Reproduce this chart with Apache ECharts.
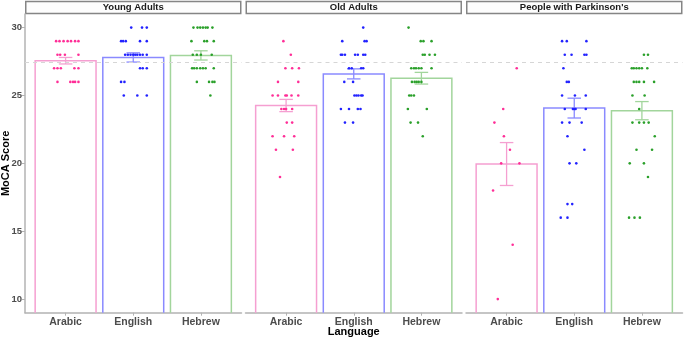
<!DOCTYPE html>
<html>
<head>
<meta charset="utf-8">
<script src="https://cdn.jsdelivr.net/npm/echarts@6/dist/echarts.min.js"></script>
<style>
  html, body { margin: 0; padding: 0; background: #fff; }
  #chart { width: 685px; height: 338px; }
</style>
</head>
<body>
<div id="chart"></div>
<script>
const panels = ["Young Adults", "Old Adults", "People with Parkinson's"];
const languages = ["Arabic", "English", "Hebrew"];

// bar heights (group means) and standard errors
const meanScores = [
  [27.56, 27.8, 27.95],
  [24.26, 26.59, 26.27],
  [19.95, 24.07, 23.88],
];
const seScores = [
  [0.24, 0.34, 0.34],
  [0.45, 0.37, 0.43],
  [1.58, 0.73, 0.67],
];
const refScore = 27.45;

// individual scores: [score, [horizontal jitter of each point]]
const youngArabic = [
  [29, [-0.14, -0.09, -0.03, 0.03, 0.08, 0.14, 0.19]],
  [28, [-0.12, -0.08, -0.01, 0.19]],
  [27, [-0.17, -0.12, -0.07, 0.13, 0.19]],
  [26, [-0.12, 0.07, 0.11, 0.14, 0.19]],
];
const youngEnglish = [
  [30, [-0.03, 0.13, 0.2]],
  [29, [-0.18, -0.15, -0.11, 0.1, 0.2]],
  [28, [-0.12, -0.08, -0.04, 0, 0.03, 0.06, 0.1, 0.14, 0.2]],
  [27, [0.1, 0.14, 0.2]],
  [26, [-0.18, -0.13]],
  [25, [-0.14, 0.06, 0.2]],
];
const youngHebrew = [
  [30, [-0.11, -0.05, -0.01, 0.03, 0.07, 0.1, 0.17]],
  [29, [-0.14, 0.05, 0.09, 0.19]],
  [28, [-0.12, -0.06, 0, 0.16]],
  [27, [-0.13, -0.1, -0.06, -0.01, 0.03, 0.07, 0.19]],
  [26, [-0.06, 0.12, 0.17, 0.2]],
  [25, [0.14]],
];
const oldArabic = [
  [29, [-0.04]],
  [28, [0.07]],
  [27, [-0.01, 0.09, 0.19]],
  [26, [-0.12, 0.18]],
  [25, [-0.2, -0.12, -0.01, 0.01, 0.08, 0.18]],
  [24, [-0.07, -0.03, 0, 0.09]],
  [23, [0.01, 0.09]],
  [22, [-0.2, -0.03, 0.12]],
  [21, [-0.15, 0.1]],
  [19, [-0.09]],
];
const oldEnglish = [
  [30, [0.14]],
  [29, [-0.17, 0.16, 0.19]],
  [28, [-0.19, -0.17, -0.13, 0.02, 0.06, 0.14, 0.17]],
  [27, [-0.07, -0.03, 0.11, 0.14]],
  [26, [-0.14, -0.01]],
  [25, [0.01, 0.04, 0.07, 0.11, 0.13]],
  [24, [-0.19, -0.07, 0.06, 0.1]],
  [23, [-0.13, -0.01]],
];
const oldHebrew = [
  [30, [-0.19]],
  [29, [-0.01, 0.03, 0.15]],
  [28, [0.02, 0.05, 0.12, 0.2]],
  [27, [-0.15, -0.11, -0.08, -0.04, 0, 0.15]],
  [26, [-0.14, -0.1, -0.07, -0.04, 0]],
  [25, [-0.18, -0.15, -0.11]],
  [24, [-0.2, 0.08]],
  [23, [-0.16, -0.05]],
  [22, [0.02]],
];
const pdArabic = [
  [27, [0.15]],
  [24, [-0.05]],
  [23, [-0.18]],
  [22, [-0.04]],
  [21, [0.05]],
  [20, [-0.08, 0.19]],
  [18, [-0.2]],
  [14, [0.09]],
  [10, [-0.13]],
];
const pdEnglish = [
  [29, [-0.18, -0.11, 0.18]],
  [28, [-0.14, -0.04, 0.15, 0.18]],
  [27, [-0.16]],
  [26, [-0.11, -0.08]],
  [25, [-0.18, 0.01, 0.17]],
  [24, [-0.14, -0.02, 0, 0.02, 0.17]],
  [23, [-0.18, -0.07, 0.11]],
  [22, [-0.1]],
  [21, [0.15]],
  [20, [-0.07, 0.03]],
  [17, [-0.1, -0.03]],
  [16, [-0.2, -0.1]],
];
const pdHebrew = [
  [28, [0.03, 0.09]],
  [27, [-0.15, -0.12, -0.08, -0.04, 0, 0.08]],
  [26, [-0.12, -0.08, -0.04, 0.03, 0.18]],
  [25, [-0.14, 0.04]],
  [24, [-0.04]],
  [23, [-0.14, -0.04, 0.03, 0.1]],
  [22, [0.19]],
  [21, [-0.08, 0.15]],
  [20, [-0.18, 0.03]],
  [19, [0.09]],
  [16, [-0.19, -0.11, -0.03]],
];

const pointGroups = [
  [youngArabic, youngEnglish, youngHebrew],
  [oldArabic, oldEnglish, oldHebrew],
  [pdArabic, pdEnglish, pdHebrew],
];

const barColors = ["#f59fd1", "#8a8aff", "#a2d59c"];
const pointColors = ["#ff2e97", "#2222ff", "#2aa02a"];
const fontFamily = "Liberation Sans, Arial, sans-serif";

const panelLeft = [25, 245.5, 466];
const panelWidth = 216.5;
const panelTop = 14;
const panelHeight = 298.7;

const chart = echarts.init(document.getElementById("chart"), null, { renderer: "canvas" });

const toPoints = (rows, lang) => {
  const out = [];
  rows.forEach(([score, offsets]) => {
    offsets.forEach((dx) => out.push([lang + 1 + dx, score]));
  });
  return out;
};

const renderBar = (params, api) => {
  const x = api.value(0);
  const m = api.value(1);
  const tl = api.coord([x - 0.45, m]);
  const br = api.coord([x + 0.45, 9]);
  return {
    type: "polyline",
    shape: { points: [[tl[0], br[1]], tl, [br[0], tl[1]], br] },
    style: { fill: null, stroke: barColors[x - 1], lineWidth: 1.5 },
  };
};

const renderErr = (params, api) => {
  const x = api.value(0);
  const lo = api.value(1);
  const hi = api.value(2);
  const a = api.coord([x, hi]);
  const b = api.coord([x, lo]);
  const cl = api.coord([x - 0.1, hi]);
  const cr = api.coord([x + 0.1, hi]);
  const dl = api.coord([x - 0.1, lo]);
  const dr = api.coord([x + 0.1, lo]);
  const style = { stroke: barColors[x - 1], lineWidth: 1.3 };
  return {
    type: "group",
    children: [
      { type: "line", shape: { x1: a[0], y1: a[1], x2: b[0], y2: b[1] }, style },
      { type: "line", shape: { x1: cl[0], y1: cl[1], x2: cr[0], y2: cr[1] }, style },
      { type: "line", shape: { x1: dl[0], y1: dl[1], x2: dr[0], y2: dr[1] }, style },
    ],
  };
};

const grids = [];
const xAxes = [];
const yAxes = [];
const series = [];
const graphics = [];

panels.forEach((name, p) => {
  grids.push({
    left: panelLeft[p],
    top: panelTop,
    width: panelWidth,
    height: panelHeight,
    containLabel: false,
    outerBoundsMode: "none",
  });

  xAxes.push({
    gridIndex: p,
    type: "value",
    min: 0.4,
    max: 3.6,
    name: p === 1 ? "Language" : "",
    nameLocation: "middle",
    nameGap: 14,
    nameMoveOverlap: false,
    nameTextStyle: { fontFamily, fontSize: 11, fontWeight: "bold", color: "#000" },
    axisLine: { show: true, lineStyle: { color: "#b3b3b3", width: 1.5 } },
    axisTick: { show: true, customValues: [1, 2, 3], length: 3, lineStyle: { color: "#b3b3b3" } },
    axisLabel: {
      show: true,
      customValues: [1, 2, 3],
      formatter: (v) => languages[Math.round(v) - 1],
      fontFamily,
      fontSize: 10.5,
      fontWeight: "bold",
      color: "#4d4d4d",
      margin: 4,
    },
    splitLine: { show: false },
  });

  yAxes.push({
    gridIndex: p,
    type: "value",
    min: 9,
    max: 31,
    show: p === 0,
    name: p === 0 ? "MoCA Score" : "",
    nameLocation: "middle",
    nameGap: 14,
    nameMoveOverlap: false,
    nameTextStyle: { fontFamily, fontSize: 11, fontWeight: "bold", color: "#000" },
    axisLine: { show: true, lineStyle: { color: "#b3b3b3", width: 1.5 } },
    axisTick: { show: true, customValues: [10, 15, 20, 25, 30], length: 3, lineStyle: { color: "#b3b3b3" } },
    axisLabel: {
      customValues: [10, 15, 20, 25, 30],
      fontFamily,
      fontSize: 9.5,
      fontWeight: "bold",
      color: "#4d4d4d",
      margin: 3,
    },
    splitLine: { show: false },
  });

  series.push({
    type: "custom",
    xAxisIndex: p,
    yAxisIndex: p,
    renderItem: renderBar,
    data: meanScores[p].map((m, i) => [i + 1, m]),
    z: 1,
    silent: true,
  });

  series.push({
    type: "scatter",
    xAxisIndex: p,
    yAxisIndex: p,
    data: [],
    silent: true,
    markLine: {
      silent: true,
      symbol: "none",
      label: { show: false },
      lineStyle: { color: "#d6d6d6", type: [4, 4], width: 1 },
      data: [{ yAxis: refScore }],
    },
  });

  series.push({
    type: "custom",
    xAxisIndex: p,
    yAxisIndex: p,
    renderItem: renderErr,
    data: meanScores[p].map((m, i) => [i + 1, m - seScores[p][i], m + seScores[p][i]]),
    z: 3,
    silent: true,
  });

  pointGroups[p].forEach((rows, lang) => {
    series.push({
      type: "scatter",
      xAxisIndex: p,
      yAxisIndex: p,
      data: toPoints(rows, lang),
      symbol: "circle",
      symbolSize: 2.6,
      itemStyle: { color: pointColors[lang], opacity: 1 },
      z: 4,
      silent: true,
    });
  });

  graphics.push({
    type: "rect",
    shape: { x: panelLeft[p] + 0.75, y: 1.5, width: panelWidth - 1.5, height: 12 },
    style: { fill: "#fdfdfd", stroke: "#858585", lineWidth: 1.5 },
  });
  graphics.push({
    type: "text",
    x: panelLeft[p] + panelWidth / 2,
    y: 7.8,
    style: {
      text: name,
      fontFamily,
      fontSize: 9.5,
      fontWeight: "bold",
      fill: "#1a1a1a",
      align: "center",
      verticalAlign: "middle",
    },
  });
});

chart.setOption({
  animation: false,
  backgroundColor: "#ffffff",
  textStyle: { fontFamily },
  grid: grids,
  xAxis: xAxes,
  yAxis: yAxes,
  series,
  graphic: graphics,
});
</script>
</body>
</html>
